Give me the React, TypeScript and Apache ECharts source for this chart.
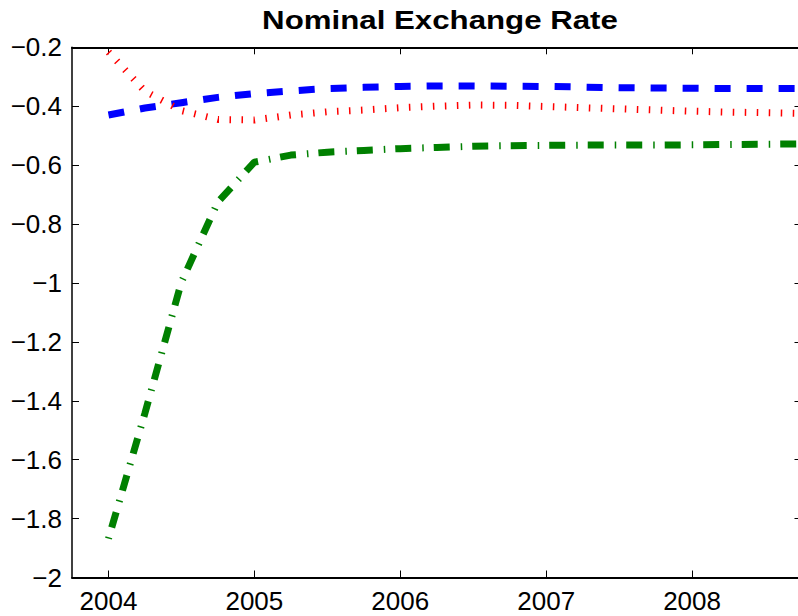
import React, { useEffect, useRef } from 'react';
import * as echarts from 'echarts';

const chartTitle = 'Nominal Exchange Rate';
const quarters = [
  2004, 2004.25, 2004.5, 2004.75, 2005, 2005.25, 2005.5, 2005.75, 2006, 2006.25,
  2006.5, 2006.75, 2007, 2007.25, 2007.5, 2007.75, 2008, 2008.25, 2008.5, 2008.75,
];
const blueSeries = [
  -0.430, -0.406, -0.388, -0.370, -0.357, -0.348, -0.340, -0.336, -0.333, -0.331,
  -0.331, -0.332, -0.333, -0.335, -0.337, -0.338, -0.339, -0.340, -0.340, -0.340,
];
const greenSeries = [
  -1.868, -1.442, -0.997, -0.725, -0.590, -0.566, -0.556, -0.550, -0.544, -0.540,
  -0.536, -0.534, -0.533, -0.532, -0.532, -0.532, -0.531, -0.530, -0.529, -0.528,
];
const redSeries = [
  -0.216, -0.349, -0.415, -0.445, -0.447, -0.430, -0.419, -0.413, -0.405, -0.400,
  -0.396, -0.397, -0.401, -0.405, -0.409, -0.413, -0.417, -0.420, -0.422, -0.424,
];
const xTicks = [2004, 2005, 2006, 2007, 2008];
const yTicks = [-2, -1.8, -1.6, -1.4, -1.2, -1, -0.8, -0.6, -0.4, -0.2];

const FONT = "'Liberation Sans', Arial, Helvetica, sans-serif";

const pairs = (vals: number[]) => quarters.map((q, i) => [q, vals[i]]);

export default function App() {
  const ref = useRef<HTMLDivElement>(null);
  useEffect(() => {
    if (!ref.current) return;
    const chart = echarts.init(ref.current, null, { renderer: 'svg' });
    const xCommon = {
      type: 'value',
      min: 2003.75,
      max: 2008.75,
      splitLine: { show: false },
    };
    const yCommon = {
      type: 'value',
      min: -2,
      max: -0.2,
      interval: 0.2,
      splitLine: { show: false },
    };
    chart.setOption({
      animation: false,
      backgroundColor: '#ffffff',
      grid: {
        left: 72,
        top: 47.3,
        right: -3.5,
        bottom: 38.5,
        containLabel: false,
        outerBoundsMode: 'none',
      },
      graphic: [
        {
          type: 'text',
          x: 440,
          y: 20.5,
          scaleX: 1.25,
          style: {
            text: chartTitle,
            fontSize: 25,
            fontWeight: 'bold',
            fontFamily: FONT,
            fill: '#000',
            textAlign: 'center',
            textVerticalAlign: 'middle',
            align: 'center',
            verticalAlign: 'middle',
          },
        },
      ],
      xAxis: [
        {
          ...xCommon,
          position: 'bottom',
          axisLine: { show: true, onZero: false, lineStyle: { color: '#000', width: 2 } },
          axisTick: { show: true, inside: true, length: 7, customValues: xTicks, lineStyle: { color: '#000', width: 1 } },
          axisLabel: {
            show: true,
            customValues: xTicks,
            margin: 10,
            fontSize: 26,
            fontFamily: FONT,
            color: '#000',
            formatter: (v: number) => String(v),
          },
        },
        {
          ...xCommon,
          position: 'top',
          axisLine: { show: true, onZero: false, lineStyle: { color: '#000', width: 2 } },
          axisTick: { show: true, inside: true, length: 7, customValues: xTicks, lineStyle: { color: '#000', width: 1 } },
          axisLabel: { show: false },
        },
      ],
      yAxis: [
        {
          ...yCommon,
          position: 'left',
          axisLine: { show: true, onZero: false, lineStyle: { color: '#000', width: 1.5 } },
          axisTick: { show: true, inside: true, length: 7, customValues: yTicks, lineStyle: { color: '#000', width: 1 } },
          axisLabel: {
            show: true,
            customValues: yTicks,
            margin: 10,
            fontSize: 26,
            fontFamily: FONT,
            color: '#000',
            formatter: (v: number) => String(Math.round(v * 10) / 10).replace('-', '\u2212'),
          },
        },
        {
          ...yCommon,
          position: 'right',
          axisLine: { show: true, onZero: false, lineStyle: { color: '#000', width: 1.5 } },
          axisTick: { show: true, inside: true, length: 7, customValues: yTicks, lineStyle: { color: '#000', width: 1 } },
          axisLabel: { show: false },
        },
      ],
      series: [
        {
          name: 'blue',
          type: 'line',
          data: pairs(blueSeries),
          showSymbol: false,
          symbol: 'none',
          lineStyle: { color: '#0000ff', width: 7, type: [16, 16], cap: 'butt' },
        },
        {
          name: 'green',
          type: 'line',
          data: pairs(greenSeries),
          showSymbol: false,
          symbol: 'none',
          lineStyle: { color: '#008000', width: 7, type: [1.5, 10, 16, 11], cap: 'butt' },
        },
        {
          name: 'red',
          type: 'line',
          data: pairs(redSeries),
          showSymbol: false,
          symbol: 'none',
          lineStyle: { color: '#ff0000', width: 7, type: [1.5, 10.5], cap: 'butt' },
        },
      ],
    } as any);
    return () => chart.dispose();
  }, []);
  return (
    <div
      ref={ref}
      style={{ position: 'fixed', left: 0, top: 0, width: 798, height: 616, background: '#fff' }}
    />
  );
}
